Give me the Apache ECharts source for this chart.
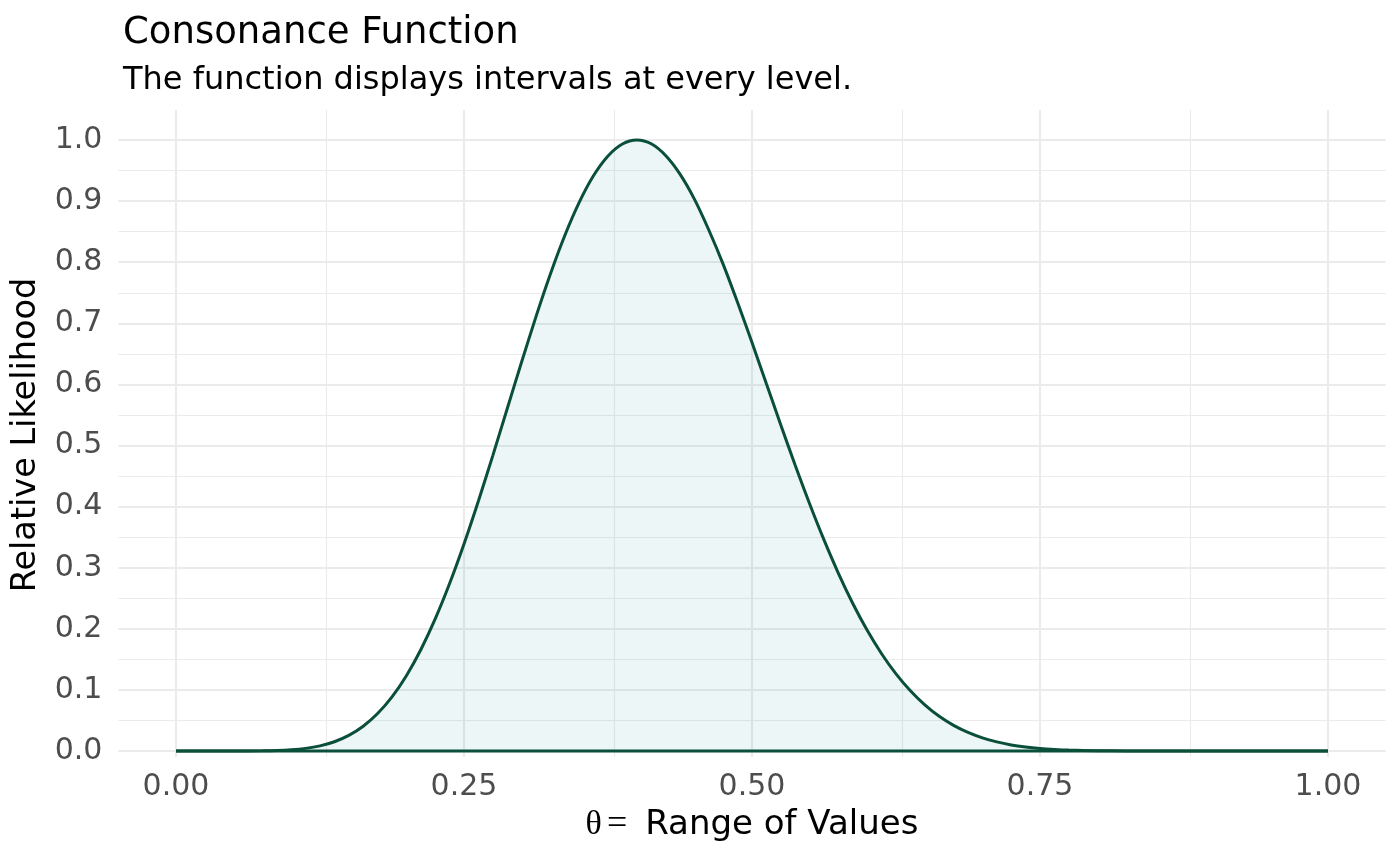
<!DOCTYPE html>
<html>
<head>
<meta charset="utf-8">
<script src="https://cdn.jsdelivr.net/npm/echarts@6/dist/echarts.min.js"></script>
<style>
html,body{margin:0;padding:0;background:#fff;}
#chart{width:1400px;height:866px;}
</style>
</head>
<body>
<div id="chart"></div>
<script>
// theta values (x) and relative likelihood (y)
const theta = [0,0.025,0.05,0.075,0.0875,0.1,0.1125,0.125,0.1375,0.15,0.1625,0.175,0.1875,0.2,0.2125,0.225,0.2375,0.25,0.2625,0.275,0.2875,0.3,0.3125,0.325,0.3375,0.35,0.3625,0.375,0.3875,0.4,0.4125,0.425,0.4375,0.45,0.4625,0.475,0.4875,0.5,0.5125,0.525,0.5375,0.55,0.5625,0.575,0.5875,0.6,0.6125,0.625,0.6375,0.65,0.6625,0.675,0.6875,0.7,0.7125,0.725,0.7375,0.75,0.7625,0.775,0.8,0.825,0.85,0.875,0.9,0.925,0.95,0.975,1];
const likelihood = [0,0,0.000015,0.00028,0.0008,0.0020,0.0043,0.0084,0.0152,0.0256,0.0406,0.0613,0.0886,0.1233,0.1658,0.2162,0.2741,0.3388,0.4092,0.4835,0.5602,0.6366,0.7109,0.7806,0.8436,0.8979,0.9418,0.9739,0.9935,1.0,0.9938,0.9746,0.9441,0.9032,0.8527,0.7965,0.7340,0.6685,0.6010,0.5337,0.4676,0.4047,0.3455,0.2909,0.2415,0.1975,0.1592,0.1262,0.0985,0.0755,0.0568,0.0420,0.0304,0.0215,0.0149,0.0100,0.0066,0.0042,0.0026,0.0015,0.0005,0.0001,0.00003,0,0,0,0,0,0];
const xTicks = [0,0.25,0.5,0.75,1];
const xMinor = [0.125,0.375,0.625,0.875];
const yTicks = [0,0.1,0.2,0.3,0.4,0.5,0.6,0.7,0.8,0.9,1.0];
const yMinor = [0.05,0.15,0.25,0.35,0.45,0.55,0.65,0.75,0.85,0.95];

const titleText = 'Consonance Function';
const subtitleText = 'The function displays intervals at every level.';
const xTitle = 'Range of Values';
const yTitle = 'Relative Likelihood';

const FONT = 'DejaVu Sans';
const GRID = '#ebebeb';
const LINE = '#0a4f3a';

const curve = theta.map((t,i)=>[t, likelihood[i]]);
const base = [[theta[0],0],[theta[theta.length-1],0]];

const gridLines = []
  .concat(xMinor.map(v=>({xAxis:v, lineStyle:{width:1.1}})))
  .concat(yMinor.map(v=>({yAxis:v, lineStyle:{width:1.1}})))
  .concat(xTicks.map(v=>({xAxis:v, lineStyle:{width:2.1}})))
  .concat(yTicks.map(v=>({yAxis:v, lineStyle:{width:2.1}})));

const chart = echarts.init(document.getElementById('chart'), null, {renderer:'canvas'});
chart.setOption({
  animation:false,
  backgroundColor:'#ffffff',
  title:[
    {text:titleText, left:118, top:10, textStyle:{fontFamily:FONT, fontSize:37, lineHeight:37, fontWeight:'normal', color:'#000'}},
    {text:subtitleText, left:118, top:60, textStyle:{fontFamily:FONT, fontSize:32, lineHeight:32, fontWeight:'normal', color:'#000'}}
  ],
  grid:{left:118.4, right:14.4, top:110, bottom:109},
  xAxis:{
    type:'value', min:-0.05, max:1.05,
    axisLine:{show:false, onZero:false}, axisTick:{show:false}, splitLine:{show:false},
    axisLabel:{customValues:xTicks, margin:15, fontFamily:FONT, fontSize:30, lineHeight:30, color:'#4d4d4d',
      formatter:v=>v.toFixed(2)}
  },
  yAxis:{
    type:'value', min:-0.0098, max:1.0491,
    axisLine:{show:false}, axisTick:{show:false}, splitLine:{show:false},
    axisLabel:{customValues:yTicks, margin:16, fontFamily:FONT, fontSize:30, lineHeight:30, color:'#4d4d4d',
      formatter:v=>v.toFixed(1)}
  },
  graphic:[
    {type:'text', x:752, y:825, z:10, style:{
      text:'{g|θ}{e|=}{t|'+xTitle+'}', align:'center', verticalAlign:'middle',
      rich:{
        g:{fontFamily:'Liberation Serif', fontSize:34, fill:'#000'},
        e:{fontFamily:'Liberation Serif', fontSize:36, fill:'#000', padding:[0,0,0,5]},
        t:{fontFamily:FONT, fontSize:34, fill:'#000', padding:[0,0,0,18]}
      }
    }},
    {type:'text', x:26, y:435, rotation:Math.PI/2, z:10, style:{
      text:yTitle, align:'center', verticalAlign:'middle', fontFamily:FONT, fontSize:33.5, fill:'#000'
    }}
  ],
  series:[
    {type:'line', data:[], silent:true, z:1,
      markLine:{silent:true, z:1, symbol:['none','none'], label:{show:false}, animation:false,
        lineStyle:{type:'solid', color:GRID}, emphasis:{disabled:true}, data:gridLines}},
    {type:'line', data:curve, smooth:0.3, showSymbol:false, silent:true, z:3,
      lineStyle:{color:LINE, width:3}, areaStyle:{color:'rgba(5,125,125,0.1)', origin:0}},
    {type:'line', data:base, showSymbol:false, silent:true, z:3,
      lineStyle:{color:LINE, width:3}}
  ]
});
</script>
</body>
</html>
